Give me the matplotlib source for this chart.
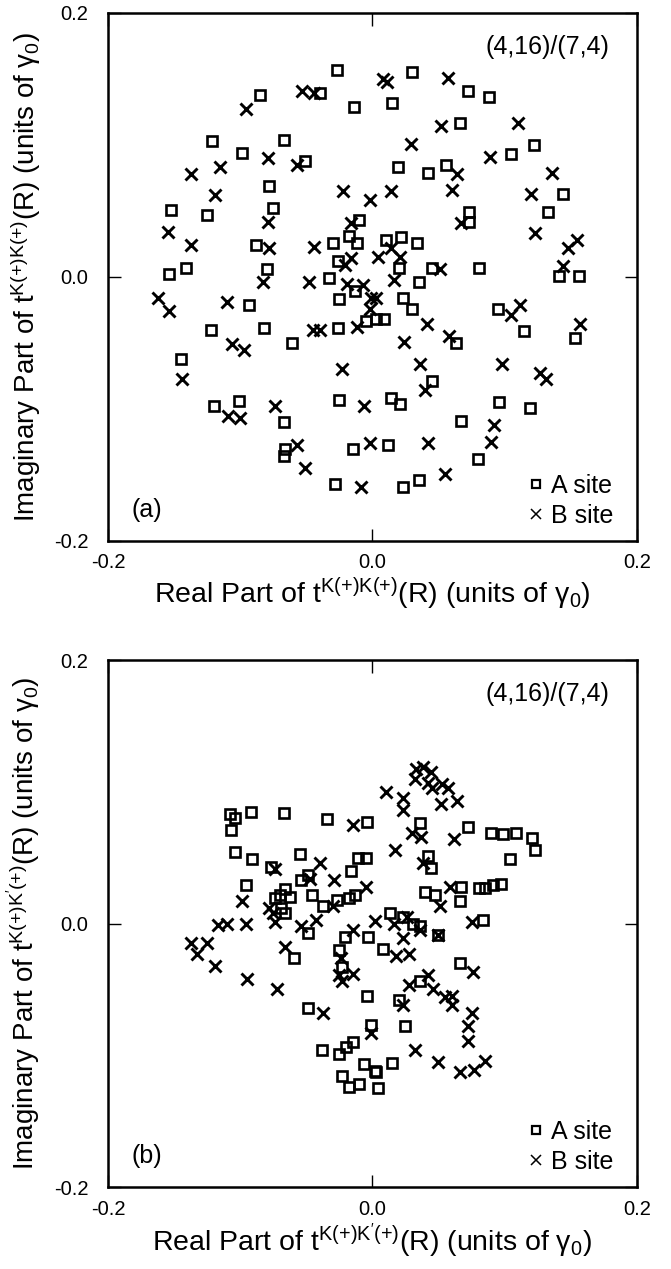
import numpy as np
import matplotlib
matplotlib.use('Agg')
import matplotlib.pyplot as plt
from matplotlib.lines import Line2D

plt.rcParams['font.family'] = ['Liberation Sans', 'DejaVu Sans']
plt.rcParams['mathtext.fontset'] = 'custom'
plt.rcParams['mathtext.rm'] = 'Liberation Sans'
plt.rcParams['mathtext.it'] = 'Liberation Sans:italic'

# panel (a): t^{K(+)K(+)}(R)
a_sq = [(-0.027, 0.157), (-0.085, 0.138), (-0.040, 0.139), (-0.014, 0.129), (-0.121, 0.103),
        (-0.067, 0.104), (-0.099, 0.094), (-0.051, 0.088), (-0.078, 0.069), (-0.075, 0.052),
        (-0.152, 0.051), (-0.125, 0.047), (-0.010, 0.043), (-0.018, 0.031), (-0.088, 0.024),
        (-0.030, 0.026), (-0.012, 0.026), (-0.026, 0.012), (-0.141, 0.007), (-0.154, 0.002),
        (-0.080, 0.006), (-0.033, -0.001),
        (0.030, 0.155), (0.072, 0.141), (0.088, 0.136), (0.015, 0.132), (0.066, 0.117),
        (0.122, 0.100), (0.105, 0.093), (0.019, 0.083), (0.042, 0.079), (0.056, 0.085),
        (0.144, 0.063), (0.133, 0.049), (0.073, 0.049), (0.073, 0.042), (0.010, 0.028),
        (0.022, 0.030), (0.034, 0.026), (0.020, 0.007), (0.045, 0.007), (0.081, 0.007),
        (0.035, -0.004), (0.141, 0.001), (0.156, 0.001),
        (-0.093, -0.021), (-0.025, -0.017), (-0.013, -0.011), (-0.122, -0.040), (-0.082, -0.039),
        (-0.061, -0.050), (-0.026, -0.039), (-0.005, -0.033), (0.003, -0.032), (0.009, -0.032),
        (-0.145, -0.062), (-0.120, -0.098), (-0.101, -0.094), (-0.025, -0.093), (-0.067, -0.110),
        (-0.066, -0.130), (-0.067, -0.136), (-0.015, -0.130), (-0.028, -0.157),
        (0.023, -0.016), (0.030, -0.024), (0.095, -0.024), (0.115, -0.041), (0.153, -0.046),
        (0.063, -0.050), (0.045, -0.079), (0.014, -0.092), (0.021, -0.096), (0.096, -0.095),
        (0.119, -0.099), (0.067, -0.109), (0.012, -0.127), (0.080, -0.138), (0.035, -0.154),
        (0.023, -0.159)]
a_x = [(0.008, 0.150), (0.011, 0.148), (-0.053, 0.141), (-0.044, 0.139), (-0.096, 0.127),
       (-0.079, 0.090), (-0.115, 0.083), (-0.057, 0.085), (-0.137, 0.078), (-0.022, 0.065),
       (-0.002, 0.058), (-0.119, 0.062), (-0.079, 0.042), (-0.016, 0.041), (-0.155, 0.034),
       (-0.137, 0.024), (-0.078, 0.022), (-0.044, 0.023), (-0.016, 0.014), (-0.021, 0.009),
       (-0.083, -0.004), (-0.048, -0.004), (-0.019, -0.005), (-0.007, -0.006),
       (0.057, 0.151), (0.052, 0.114), (0.110, 0.117), (0.029, 0.101), (0.089, 0.091),
       (0.064, 0.078), (0.136, 0.079), (0.060, 0.066), (0.014, 0.065), (0.120, 0.063),
       (0.067, 0.041), (0.123, 0.033), (0.155, 0.028), (0.148, 0.022), (0.014, 0.022),
       (0.021, 0.015), (0.004, 0.015), (0.051, 0.006), (0.144, 0.008), (0.016, -0.002),
       (-0.162, -0.016), (-0.154, -0.026), (-0.110, -0.019), (-0.001, -0.016), (-0.002, -0.024),
       (-0.045, -0.040), (-0.040, -0.040), (-0.012, -0.038), (-0.106, -0.051), (-0.097, -0.055),
       (-0.144, -0.077), (-0.023, -0.070), (-0.006, -0.098), (-0.074, -0.098), (-0.109, -0.105),
       (-0.100, -0.107), (-0.057, -0.127), (-0.051, -0.145), (-0.002, -0.126), (-0.009, -0.159),
       (0.003, -0.016), (0.112, -0.021), (0.105, -0.029), (0.157, -0.036), (0.041, -0.036),
       (0.058, -0.045), (0.024, -0.049), (0.036, -0.066), (0.098, -0.066), (0.127, -0.073),
       (0.131, -0.077), (0.040, -0.086), (0.092, -0.112), (0.090, -0.125), (0.042, -0.126),
       (0.055, -0.149)]

# panel (b): t^{K(+)K'(+)}(R)
b_sq = [(-0.108, 0.083), (-0.104, 0.080), (-0.092, 0.085), (-0.067, 0.084), (-0.107, 0.071),
        (-0.034, 0.079), (-0.004, 0.077), (-0.104, 0.054), (-0.091, 0.049), (-0.055, 0.053),
        (-0.077, 0.043), (-0.011, 0.050), (-0.005, 0.050), (-0.016, 0.040), (-0.049, 0.037),
        (-0.054, 0.033), (-0.096, 0.029), (-0.066, 0.026), (-0.070, 0.022), (-0.062, 0.020),
        (-0.074, 0.019), (-0.046, 0.022), (-0.027, 0.018), (-0.018, 0.019), (-0.013, 0.022),
        (-0.037, 0.013), (-0.069, 0.012), (-0.066, 0.008),
        (-0.049, -0.007), (-0.021, -0.010), (-0.003, -0.010), (-0.059, -0.026), (-0.025, -0.020),
        (-0.023, -0.033), (-0.004, -0.055), (-0.049, -0.064), (-0.001, -0.077), (-0.038, -0.096),
        (-0.025, -0.099), (-0.020, -0.094), (-0.015, -0.090), (-0.006, -0.107), (0.002, -0.112),
        (-0.023, -0.116), (-0.018, -0.124), (-0.010, -0.122), (0.004, -0.125),
        (0.036, 0.076), (0.072, 0.073), (0.090, 0.069), (0.099, 0.068), (0.109, 0.069),
        (0.121, 0.065), (0.123, 0.056), (0.104, 0.049), (0.042, 0.051), (0.044, 0.042),
        (0.040, 0.024), (0.047, 0.022), (0.067, 0.028), (0.066, 0.017), (0.081, 0.027),
        (0.085, 0.027), (0.091, 0.029), (0.097, 0.030), (0.084, 0.003), (0.013, 0.008),
        (0.023, 0.005), (0.031, 0.000), (0.036, -0.002), (0.050, -0.009),
        (0.008, -0.019), (0.066, -0.030), (0.036, -0.044), (0.020, -0.058), (0.025, -0.078),
        (0.015, -0.106), (0.003, -0.113)]
b_x = [(-0.015, 0.075), (-0.040, 0.046), (-0.074, 0.041), (-0.047, 0.034), (-0.029, 0.033),
       (-0.005, 0.028), (-0.099, 0.017), (-0.030, 0.013), (-0.078, 0.012), (-0.075, 0.008),
       (-0.117, -0.001), (-0.110, 0.000), (-0.096, 0.000), (-0.074, 0.001), (-0.054, -0.002),
       (-0.043, 0.003), (-0.015, -0.005), (0.002, 0.002),
       (-0.137, -0.015), (-0.125, -0.015), (-0.133, -0.023), (-0.119, -0.032), (-0.095, -0.042),
       (-0.072, -0.050), (-0.066, -0.018), (-0.024, -0.026), (-0.025, -0.039), (-0.015, -0.038),
       (-0.023, -0.044), (-0.037, -0.068), (-0.001, -0.083),
       (0.033, 0.117), (0.038, 0.119), (0.044, 0.115), (0.032, 0.110), (0.042, 0.107),
       (0.045, 0.103), (0.053, 0.106), (0.057, 0.103), (0.052, 0.091), (0.064, 0.093),
       (0.010, 0.100), (0.023, 0.095), (0.023, 0.086), (0.030, 0.069), (0.037, 0.066),
       (0.062, 0.064), (0.017, 0.056), (0.038, 0.046), (0.059, 0.028), (0.051, 0.013),
       (0.016, 0.000), (0.026, 0.005), (0.075, 0.001),
       (0.023, -0.011), (0.018, -0.025), (0.028, -0.023), (0.076, -0.037), (0.042, -0.039),
       (0.028, -0.047), (0.046, -0.050), (0.055, -0.056), (0.060, -0.055), (0.060, -0.062),
       (0.023, -0.062), (0.075, -0.068), (0.072, -0.078), (0.072, -0.089), (0.032, -0.096),
       (0.050, -0.105), (0.066, -0.113), (0.077, -0.111), (0.085, -0.104), (0.050, -0.009),
       (0.036, -0.005)]

ticks = [-0.2, 0.0, 0.2]
tick_labels = ['-0.2', '0.0', '0.2']
xlabels = [r'Real Part of t$^{\mathrm{K(+)K(+)}}$(R) (units of γ$_{\mathrm{0}}$)',
           r"Real Part of t$^{\mathrm{K(+)K'(+)}}$(R) (units of γ$_{\mathrm{0}}$)"]
ylabels = [r'Imaginary Part of t$^{\mathrm{K(+)K(+)}}$(R) (units of γ$_{\mathrm{0}}$)',
           r"Imaginary Part of t$^{\mathrm{K(+)K'(+)}}$(R) (units of γ$_{\mathrm{0}}$)"]
panel_tags = ['(a)', '(b)']

fig = plt.figure(figsize=(6.71, 12.69), dpi=100)
ax_a = fig.add_axes([0.161, 0.5737, 0.788, 0.4161])
ax_b = fig.add_axes([0.161, 0.0646, 0.788, 0.4153])

for ax, sq, xx, xl, yl, tag in zip([ax_a, ax_b], [a_sq, b_sq], [a_x, b_x],
                                   xlabels, ylabels, panel_tags):
    sq = np.array(sq)
    xx = np.array(xx)
    ax.plot(sq[:, 0], sq[:, 1], ls='none', marker='s', ms=7.5, mfc='none',
            mec='black', mew=1.9)
    ax.plot(xx[:, 0], xx[:, 1], ls='none', marker='x', ms=8.5, color='black', mew=2.1)
    ax.set_xlim(-0.2, 0.2)
    ax.set_ylim(-0.2, 0.2)
    ax.set_xticks(ticks)
    ax.set_xticklabels(tick_labels)
    ax.set_yticks(ticks)
    ax.set_yticklabels(tick_labels)
    ax.tick_params(direction='in', length=9, width=1, top=True, right=True,
                   labelsize=14.5)
    ax.tick_params(axis='x', pad=9)
    ax.tick_params(axis='y', pad=14)
    for s in ax.spines.values():
        s.set_linewidth(1.8)
    ax.set_xlabel(xl, fontsize=20.5)
    ax.set_ylabel(yl, fontsize=20)
    ax.xaxis.set_label_coords(0.5, -0.066)
    ax.yaxis.set_label_coords(-0.123, 0.5)
    ax.text(0.949, 0.936, '(4,16)/(7,4)', transform=ax.transAxes, ha='right',
            va='center', fontsize=18)
    ax.text(0.045, 0.059, tag, transform=ax.transAxes, ha='left', va='center',
            fontsize=18)
    h = [Line2D([], [], ls='none', marker='s', ms=6, mfc='none', mec='black', mew=1.6),
         Line2D([], [], ls='none', marker='x', ms=7, color='black', mew=1.1)]
    ax.legend(h, ['A site', 'B site'], loc='lower right', bbox_to_anchor=(0.96, 0.02),
              frameon=False, fontsize=18, handlelength=0.5, handletextpad=0.35,
              labelspacing=0.25, borderpad=0.1, borderaxespad=0.0)

fig.savefig('out.png', dpi=100)
